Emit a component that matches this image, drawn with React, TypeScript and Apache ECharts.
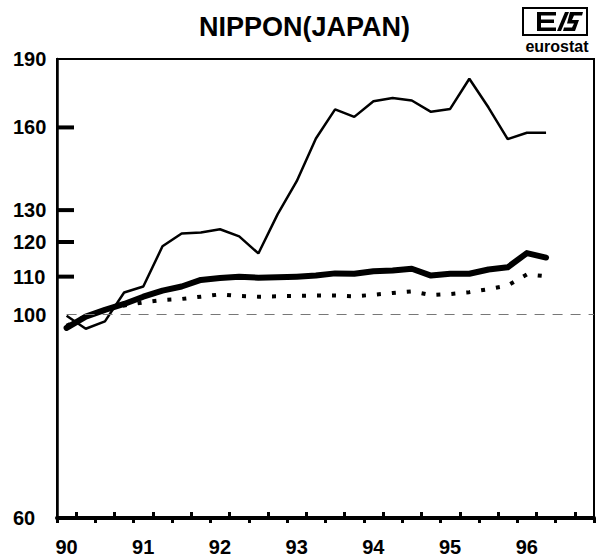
import React, { useEffect, useRef } from "react";
import * as echarts from "echarts";

// Quarterly observations, 1990Q1 .. 1996Q2
const quarters = [
  "1990Q1", "1990Q2", "1990Q3", "1990Q4",
  "1991Q1", "1991Q2", "1991Q3", "1991Q4",
  "1992Q1", "1992Q2", "1992Q3", "1992Q4",
  "1993Q1", "1993Q2", "1993Q3", "1993Q4",
  "1994Q1", "1994Q2", "1994Q3", "1994Q4",
  "1995Q1", "1995Q2", "1995Q3", "1995Q4",
  "1996Q1", "1996Q2",
];

const thinSeries = [
  99.7, 96.5, 98.3, 105.7, 107.3, 118.7, 122.6, 122.9, 123.9, 121.7, 116.6, 128.6,
  139.8, 155.6, 167.4, 164.3, 170.9, 172.3, 171.2, 166.4, 167.6, 180.8, 168.2, 155.4,
  157.9, 157.9,
];

const thickSeries = [
  96.7, 99.5, 101.2, 102.7, 104.6, 106.2, 107.3, 109.1, 109.6, 110.0, 109.7, 109.8,
  110.0, 110.3, 110.9, 110.8, 111.5, 111.7, 112.2, 110.3, 110.8, 110.8, 112.0, 112.6,
  116.7, 115.4,
];

const dottedSeries = [
  97.2, 99.6, 101.2, 102.3, 103.1, 103.7, 104.0, 104.6, 105.2, 104.8, 104.6, 104.7,
  104.8, 104.9, 104.9, 104.7, 105.1, 105.6, 106.0, 105.0, 105.3, 105.8, 106.6, 107.6,
  110.6, 110.1,
];

const yLabels = [190, 160, 130, 120, 110, 100, 60];
const yTicks = [160, 130, 120, 110];
const baseLevel = 100;
const xStart = 1990;
const xEnd = 1997;

const FONT = '"Liberation Sans", Arial, Helvetica, sans-serif';

function quarterToX(q: string): number {
  const year = parseInt(q.slice(0, 4), 10);
  const n = parseInt(q.slice(5), 10);
  return year + (n - 0.5) / 4;
}

export default function App() {
  const ref = useRef<HTMLDivElement>(null);

  useEffect(() => {
    if (!ref.current) return;
    const chart = echarts.init(ref.current, null, { renderer: "svg" });
    const xs = quarters.map(quarterToX);
    const pair = (vals: number[]) => vals.map((v, i) => [xs[i], v]);

    const baseLine = [
      { coord: [xs[0], baseLevel] },
      { coord: [xEnd, baseLevel] },
    ];

    chart.setOption({
      animation: false,
      backgroundColor: "#fff",
      title: {
        text: "NIPPON(JAPAN)",
        left: 199,
        top: 13,
        padding: 0,
        textStyle: { fontFamily: FONT, fontWeight: "bold", fontSize: 27, color: "#000" },
      },
      grid: {
        left: 57,
        right: 2,
        top: 59,
        bottom: 40,
        show: true,
        borderColor: "#000",
        borderWidth: 2,
        backgroundColor: "transparent",
      },
      xAxis: [
        {
          type: "value",
          min: xStart,
          max: xEnd,
          interval: 0.5,
          position: "bottom",
          axisLine: { show: true, lineStyle: { color: "#000", width: 4 } },
          axisTick: { show: true, inside: false, length: 5, lineStyle: { color: "#000", width: 3 } },
          axisLabel: { show: false },
          splitLine: { show: false },
        },
        {
          type: "value",
          min: xStart,
          max: xEnd,
          interval: 0.5,
          position: "bottom",
          axisLine: { show: false },
          axisTick: { show: false, inside: true },
          minorTick: { show: true, splitNumber: 2, length: 6, lineStyle: { color: "#000", width: 3 } },
          axisLabel: {
            show: true,
            margin: 19,
            padding: [0, 0, 0, 19],
            color: "#000",
            fontFamily: FONT,
            fontWeight: "bold",
            fontSize: 20,
            formatter: (v: number) =>
              Number.isInteger(v) && v < xEnd ? String(v % 100).padStart(2, "0") : "",
          },
          splitLine: { show: false },
          minorSplitLine: { show: false },
        },
      ],
      yAxis: {
        type: "log",
        logBase: 10,
        min: 60,
        max: 190,
        axisLine: { show: true, lineStyle: { color: "#000", width: 2.5 } },
        axisTick: { show: false },
        axisLabel: { show: false },
        splitLine: { show: false },
      },
      graphic: [
        {
          type: "group",
          x: 523,
          y: 8,
          children: [
            { type: "rect", shape: { x: 0, y: 0, width: 64, height: 27 }, style: { fill: "none", stroke: "#000", lineWidth: 2 } },
            {
              type: "polygon",
              shape: { points: [[14, 4], [33, 4], [33, 7.5], [18, 7.5], [18, 11.5], [31, 11.5], [31, 15], [18, 15], [18, 19.5], [33, 19.5], [33, 23], [14, 23]] },
              style: { fill: "#000" },
            },
            { type: "polygon", shape: { points: [[34, 23], [38, 23], [46, 4], [42, 4]] }, style: { fill: "#000" } },
            {
              type: "polygon",
              shape: { points: [[47, 4], [60, 4], [59, 7.5], [51, 7.5], [49, 12], [56, 12], [52, 23], [40, 23], [41, 19.5], [49, 19.5], [51, 15.5], [44, 15.5]] },
              style: { fill: "#000" },
            },
            {
              type: "text",
              x: 34,
              y: 30,
              style: { text: "eurostat", font: `bold 16px ${FONT}`, fill: "#000", textAlign: "center", textVerticalAlign: "top" },
            },
          ],
        },
      ],
      series: [
        {
          name: "yLabels",
          type: "custom",
          xAxisIndex: 0,
          clip: false,
          silent: true,
          data: yLabels.map((v) => [xStart, v]),
          renderItem: (params: any, api: any) => {
            const p = api.coord([api.value(0), api.value(1)]);
            const v = api.value(1);
            const isTick = yTicks.indexOf(v) >= 0;
            const left = params.coordSys && typeof params.coordSys.x === "number" ? params.coordSys.x : 57;
            const children: any[] = [
              {
                type: "text",
                x: 13,
                y: p[1],
                style: {
                  text: String(v),
                  font: `bold 20px ${FONT}`,
                  fill: "#000",
                  textAlign: "left",
                  textVerticalAlign: "middle",
                },
              },
            ];
            if (isTick) {
              children.push({
                type: "rect",
                shape: { x: left, y: p[1] - 2, width: 17, height: 4 },
                style: { fill: "#000" },
              });
            }
            return { type: "group", children };
          },
          z: 10,
        },
        {
          name: "dotted",
          type: "line",
          xAxisIndex: 0,
          data: pair(dottedSeries),
          showSymbol: false,
          symbol: "none",
          lineStyle: { color: "#000", width: 4, type: [4, 11] },
          z: 2,
        },
        {
          name: "thick",
          type: "line",
          xAxisIndex: 0,
          data: pair(thickSeries),
          showSymbol: false,
          symbol: "none",
          lineStyle: { color: "#000", width: 6, cap: "round", join: "round" },
          z: 3,
          markLine: {
            silent: true,
            symbol: "none",
            animation: false,
            label: { show: false },
            lineStyle: { color: "#777", width: 1, type: [10, 8], opacity: 1 },
            data: [baseLine],
          },
        },
        {
          name: "thin",
          type: "line",
          xAxisIndex: 0,
          data: pair(thinSeries),
          showSymbol: false,
          symbol: "none",
          lineStyle: { color: "#000", width: 2.5 },
          z: 4,
        },
      ],
    });

    return () => chart.dispose();
  }, []);

  return (
    <div
      ref={ref}
      style={{ position: "fixed", left: 0, top: 0, width: 597, height: 558, background: "#fff" }}
    />
  );
}
